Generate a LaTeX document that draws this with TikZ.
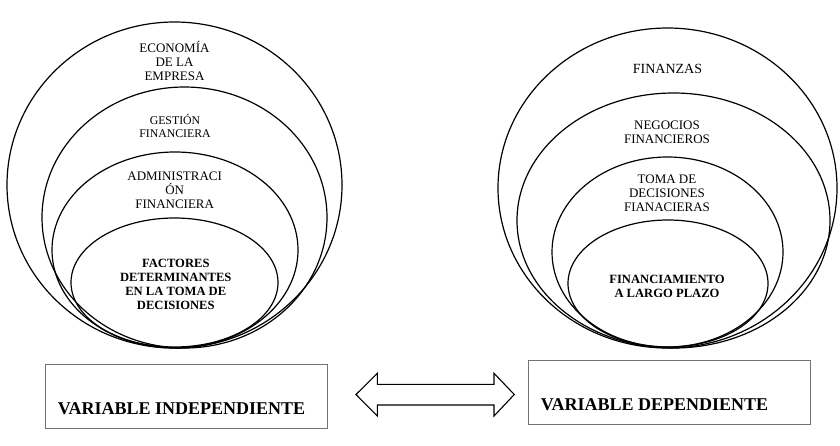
\documentclass[tikz,border=0pt]{standalone}
\usepackage{fontspec}
\setmainfont{Liberation Serif}
\usetikzlibrary{shapes.geometric}
\begin{document}
\begin{tikzpicture}[x=1pt,y=-1pt,
  ring/.style={draw=black,line width=1.2pt,ellipse,inner sep=0pt},
  lbl/.style={align=center,inner sep=0pt,anchor=base,font=\fontsize{13}{13.7}\selectfont},
  lblb/.style={align=center,inner sep=0pt,anchor=base,font=\fontsize{12.6}{13.8}\selectfont\bfseries},
  varbox/.style={draw=black!55,line width=1pt,inner sep=0pt},
  vartext/.style={inner sep=0pt,anchor=base west,font=\fontsize{18}{20}\selectfont\bfseries}]
\fill[white] (0,0) rectangle (840,445);
% left ellipses
\node[ring,minimum width=335pt,minimum height=326pt] (L1) at (174.5,185) {};
\node[ring,minimum width=285pt,minimum height=261pt] (L2) at (184.5,217.5) {};
\node[ring,minimum width=246pt,minimum height=196pt] (L3) at (175,250) {};
\node[ring,minimum width=207pt,minimum height=129pt] (L4) at (174.5,282.5) {};
% right ellipses
\node[ring,minimum width=339pt,minimum height=320pt] (R1) at (667.5,188) {};
\node[ring,minimum width=313pt,minimum height=255pt] (R2) at (673.5,220.5) {};
\node[ring,minimum width=231pt,minimum height=190pt] (R3) at (667.5,252) {};
\node[ring,minimum width=200pt,minimum height=127pt] (R4) at (668,283.5) {};
% left labels (anchored at the baseline of the last line)
\node[lbl] (t1) at (174.5,80) {ECONOMÍA\\DE LA\\EMPRESA};
\node[lbl,font=\fontsize{11.8}{13}\selectfont] (t2) at (175,137) {GESTIÓN\\FINANCIERA};
\node[lbl] (t3) at (174.7,208) {ADMINISTRACI\\ÓN\\FINANCIERA};
\node[lblb] (t4) at (175.8,309) {FACTORES\\DETERMINANTES\\EN LA TOMA DE\\DECISIONES};
% right labels
\node[lbl,font=\fontsize{14}{15}\selectfont] (u1) at (667.5,73) {FINANZAS};
\node[lbl] (u2) at (667,143) {NEGOCIOS\\FINANCIEROS};
\node[lbl] (u3) at (667,211) {TOMA DE\\DECISIONES\\FIANACIERAS};
\node[lblb] (u4) at (667,297) {FINANCIAMIENTO\\A LARGO PLAZO};
% bottom boxes
\node[varbox,minimum width=282pt,minimum height=64.5pt] (bL) at (186.7,396.6) {};
\node[vartext] (bLt) at (57.7,414) {VARIABLE INDEPENDIENTE};
\node[varbox,minimum width=282.5pt,minimum height=64.3pt] (bR) at (669.5,392.8) {};
\node[vartext] (bRt) at (540.7,410.7) {VARIABLE DEPENDIENTE};
% double arrow
\coordinate (aL) at (356,394.5);
\coordinate (aR) at (514.3,394.5);
\draw[line width=1.1pt,line join=miter,fill=white]
  (aL) -- (377.3,373.3) -- (377.3,384.3) -- (494,384.3) -- (494,373.3) -- (aR)
  -- (494,416) -- (494,405) -- (377.3,405) -- (377.3,416) -- cycle;
\end{tikzpicture}
\end{document}
